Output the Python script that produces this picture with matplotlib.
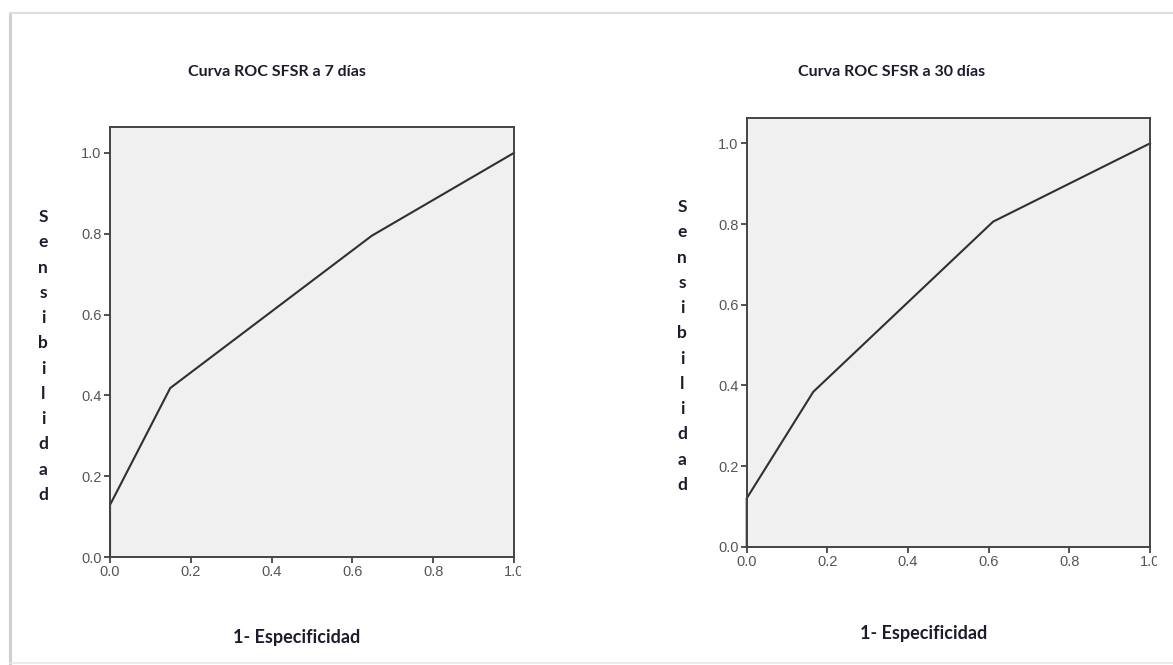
import matplotlib
matplotlib.use("Agg")
import matplotlib.pyplot as plt
from matplotlib.lines import Line2D
from matplotlib.transforms import Bbox, TransformedBbox

# ROC points
fpr_7 = [0.0, 0.0, 0.149, 0.648, 1.0]
tpr_7 = [0.0, 0.129, 0.418, 0.795, 1.0]
fpr_30 = [0.0, 0.0, 0.165, 0.611, 1.0]
tpr_30 = [0.0, 0.120, 0.384, 0.806, 1.0]

titles = ["Curva ROC SFSR a 7 días", "Curva ROC SFSR a 30 días"]
xlabel = "1- Especificidad"
ylabel = "Sensibilidad"
ticks = [0.0, 0.2, 0.4, 0.6, 0.8, 1.0]
tick_labels = ["0.0", "0.2", "0.4", "0.6", "0.8", "1.0"]

TXT = "#1c1c2c"
TICK = "#555555"
SPINE = "#444444"
title_font = ["Lato", "DejaVu Sans"]

fig = plt.figure(figsize=(11.73, 6.65), dpi=100)
fig.patch.set_facecolor("white")

# faint frame around the output, as in the viewer screenshot
fig.add_artist(Line2D([0.0085, 0.0085], [0.003, 0.981], color="#cfcfcf", lw=2.2,
                      transform=fig.transFigure))
fig.add_artist(Line2D([0.0085, 1.0], [0.981, 0.981], color="#dddddd", lw=1.5,
                      transform=fig.transFigure))
fig.add_artist(Line2D([0.0085, 1.0], [0.003, 0.003], color="#e8e8e8", lw=1.2,
                      transform=fig.transFigure))

panels = [
    dict(rect=[0.0938, 0.1624, 0.3444, 0.6466], x=fpr_7, y=tpr_7, ytop=1.064,
         title=(0.236, 0.892), xl=(0.253, 0.042), yl=(0.0367, 217, 495)),
    dict(rect=[0.6366, 0.1779, 0.3438, 0.6447], x=fpr_30, y=tpr_30, ytop=1.063,
         title=(0.760, 0.892), xl=(0.787, 0.048), yl=(0.5814, 207, 485)),
]

H = 665.0
for p, title in zip(panels, titles):
    ax = fig.add_axes(p["rect"])
    ax.set_facecolor("#f0f0f0")
    ax.plot(p["x"], p["y"], color="#303030", lw=1.5, solid_joinstyle="miter",
            clip_on=False)
    ax.set_xlim(0, 1)
    ax.set_ylim(0, p["ytop"])
    ax.set_xticks(ticks)
    ax.set_xticklabels(tick_labels)
    ax.set_yticks(ticks)
    ax.set_yticklabels(tick_labels)
    for s in ax.spines.values():
        s.set_color(SPINE)
        s.set_linewidth(1.4)
    ax.tick_params(direction="out", length=4.5, width=1.3, color=SPINE,
                   labelcolor=TICK, labelsize=10.5, pad=1.5)
    for lab in ax.get_xticklabels() + ax.get_yticklabels():
        lab.set_fontfamily(["Liberation Sans", "DejaVu Sans"])
    # the last x label is cut off in the original
    last = ax.get_xticklabels()[-1]
    x_cut = p["rect"][0] + p["rect"][2] + 7 / 1173
    last.set_clip_box(TransformedBbox(Bbox([[0, 0], [x_cut, 1]]), fig.transFigure))
    last.set_clip_on(True)

    fig.text(p["title"][0], p["title"][1], title, ha="center", va="center",
             fontsize=11.5, fontweight="bold", color=TXT, family=title_font)
    fig.text(p["xl"][0], p["xl"][1], xlabel, ha="center", va="center",
             fontsize=13, fontweight="bold", color=TXT, family=title_font)
    xpos, ytop_px, ybot_px = p["yl"]
    n = len(ylabel)
    step = (ybot_px - ytop_px) / (n - 1)
    for i, ch in enumerate(ylabel):
        fig.text(xpos, 1 - (ytop_px + i * step) / H, ch, ha="center", va="center",
                 fontsize=12.5, fontweight="bold", color=TXT, family=title_font)

fig.savefig("out.png", dpi=100)
